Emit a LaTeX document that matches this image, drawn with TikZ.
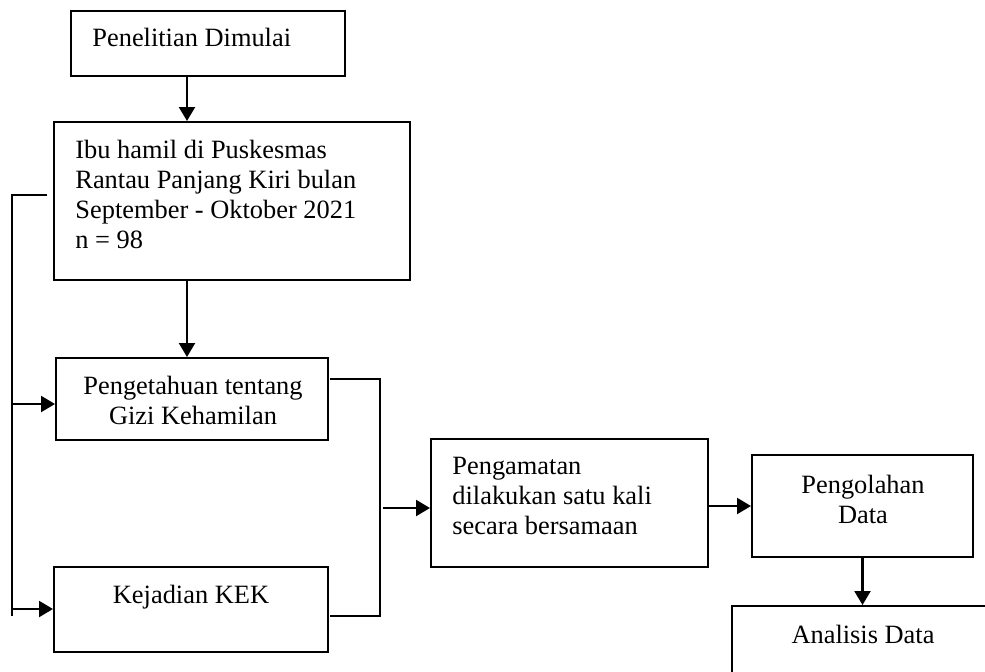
\documentclass[tikz,border=0pt]{standalone}
\usepackage{fontspec}
\setmainfont{Liberation Serif}
\usetikzlibrary{arrows.meta}
\begin{document}
\begin{tikzpicture}[x=0.5pt,y=-0.5pt,
  box/.style={draw=black, line width=1pt, inner sep=0pt, minimum width=#1},
  txt/.style={inner sep=0pt, font=\fontsize{13.2pt}{15pt}\selectfont, text=black},
  conn/.style={draw=black, line width=1.1pt},
  arr/.style={conn, -{Triangle[length=7pt,width=8pt]}}]
\useasboundingbox (0,0) rectangle (985,671);
\clip (0,0) rectangle (985,671);
% boxes
\node[box=137pt, minimum height=32.5pt] (b1) at (208,43.5) {};
\node[box=178pt, minimum height=79pt] (b2) at (232,201) {};
\node[box=136pt, minimum height=41pt] (b3) at (192,399) {};
\node[box=137pt, minimum height=42.5pt] (b4) at (191,609.5) {};
\node[box=138.5pt, minimum height=64pt] (b5) at (569.5,503) {};
\node[box=110.5pt, minimum height=51pt] (b6) at (862.5,506) {};
\node[box=134pt, minimum height=47pt] (b7) at (866,653) {};
% texts
\node[txt, anchor=north west] (t1) at (92,27.5) {Penelitian Dimulai};
\node[txt, anchor=north west, align=left] (t2) at (75,139.5) {Ibu hamil di Puskesmas\\Rantau Panjang Kiri bulan\\September - Oktober 2021\\n = 98};
\node[txt, anchor=north, align=center] (t3) at (193,375.5) {Pengetahuan tentang\\Gizi Kehamilan};
\node[txt, anchor=north] (t4) at (191,584.5) {Kejadian KEK};
\node[txt, anchor=north west, align=left] (t5) at (452,456.5) {Pengamatan\\dilakukan satu kali\\secara bersamaan};
\node[txt, anchor=north, align=center] (t6) at (863,474.5) {Pengolahan\\Data};
\node[txt, anchor=north] (t7) at (863,624.5) {Analisis Data};
% vertical arrows on the left column
\coordinate (ax) at (187,0);
\draw[arr] (b1.south -| ax) -- (b2.north -| ax);
\draw[arr] (b2.south -| ax) -- (b3.north -| ax);
% left bracket
\coordinate (L1) at (47,195);
\coordinate (L0) at (12,195);
\coordinate (L2) at (12,616);
\draw[conn] (L1) -- (L0) -- (L2);
\coordinate (La) at (12,404);
\coordinate (Lb) at (12,609);
\draw[arr] (La) -- (La -| b3.west);
\draw[arr] (Lb) -- (Lb -| b4.west);
% right bracket
\coordinate (R1) at (330,379);
\coordinate (R2) at (380,379);
\coordinate (R3) at (380,616);
\coordinate (R4) at (330,616);
\draw[conn] (R1) -- (R2) -- (R3) -- (R4);
\coordinate (Ra) at (383,508);
\draw[arr] (Ra) -- (Ra -| b5.west);
% right part
\draw[arr] (b6.west -| b5.east) -- (b6.west);
\draw[arr] (b6.south) -- (b6.south |- b7.north);
\end{tikzpicture}
\end{document}
